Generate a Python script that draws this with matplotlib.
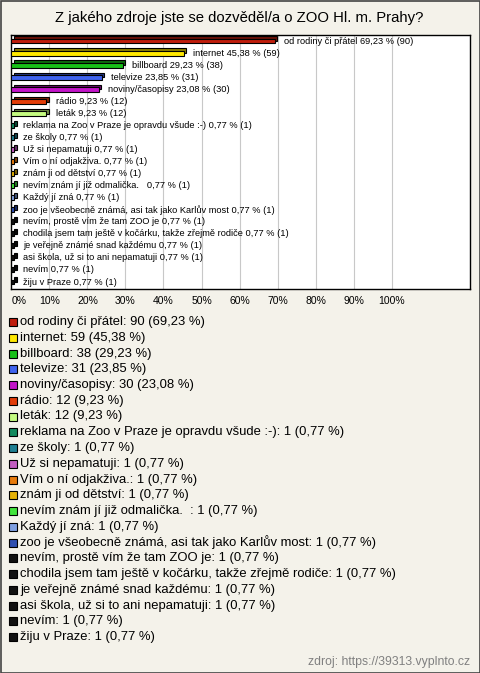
import matplotlib.pyplot as plt
import matplotlib.transforms as mtransforms
from matplotlib.colors import to_rgb
from matplotlib.patches import Rectangle
import numpy as np

plt.rcParams['font.family'] = ['Liberation Sans', 'DejaVu Sans']

title = 'Z jakého zdroje jste se dozvěděl/a o ZOO Hl. m. Prahy?'
answers = [
    'od rodiny či přátel', 'internet', 'billboard', 'televize', 'noviny/časopisy',
    'rádio', 'leták', 'reklama na Zoo v Praze je opravdu všude :-)', 'ze školy',
    'Už si nepamatuji', 'Vím o ní odjakživa.', 'znám ji od dětství',
    'nevím znám jí již odmalička.  ', 'Každý jí zná',
    'zoo je všeobecně známá, asi tak jako Karlův most',
    'nevím, prostě vím že tam ZOO je',
    'chodila jsem tam ještě v kočárku, takže zřejmě rodiče',
    'je veřejně známé snad každému', 'asi škola, už si to ani nepamatuji',
    'nevím', 'žiju v Praze',
]
counts = [90, 59, 38, 31, 30, 12, 12, 1, 1, 1, 1, 1, 1, 1, 1, 1, 1, 1, 1, 1, 1]
percents = [69.23, 45.38, 29.23, 23.85, 23.08, 9.23, 9.23] + [0.77] * 14
colors = ['#c01d0c', '#ffe800', '#18c018', '#3f63ee', '#c214c8', '#e23c08',
          '#c4fb80', '#138a5e', '#1f7f92', '#c25cbf', '#e87b0c', '#e4b004',
          '#42e43c', '#7fa0e2', '#2f4fb0', '#111111', '#111111', '#111111',
          '#111111', '#111111', '#111111']

ticks = list(range(0, 101, 10))
bg = '#f4f2ea'


def pct(v):
    return ('%.2f' % v).replace('.', ',')


fig = plt.figure(figsize=(4.8, 6.73), dpi=100, facecolor=bg)
W, H = 480, 673

fig.text(239 / W, 1 - 18 / H, title, ha='center', va='center', fontsize=10.7)

ax = fig.add_axes([11 / W, 1 - 289 / H, 459 / W, 254 / H])
ax.set_facecolor('white')
n = len(answers)
y = np.arange(n)
ax.set_xlim(-0.1, 120.6)
ax.set_ylim(n - 1 + 0.58, -0.5)

for t in ticks[1:]:
    ax.axvline(t, color='#c8c8c8', lw=0.8, zorder=0)

# 3D look: darker box shifted up-right behind the front face
shift = mtransforms.ScaledTranslation(2.2 / 100, 2.2 / 100, fig.dpi_scale_trans)
dark = [tuple(np.array(to_rgb(c)) * 0.55) for c in colors]
ax.barh(y, percents, height=0.41, color=dark, edgecolor='black', linewidth=0.8,
        transform=ax.transData + shift, zorder=2)
ax.barh(y, percents, height=0.41, color=colors, edgecolor='black', linewidth=0.8,
        zorder=3)

for i in range(n):
    lab = '{0} {1} % ({2})'.format(answers[i], pct(percents[i]), counts[i])
    ax.annotate(lab, (percents[i], y[i]), xytext=(6.5, 0), textcoords='offset points',
                va='center', ha='left', fontsize=6.7, zorder=4)

ax.set_yticks([])
ax.set_xticks(ticks)
ax.set_xticklabels(['%d%%' % t for t in ticks], fontsize=7.5)
ax.get_xticklabels()[0].set_horizontalalignment('left')
ax.tick_params(axis='x', length=0, pad=5)
for s in ax.spines.values():
    s.set_color('black')
    s.set_linewidth(1.0)

# legend below the chart
for i in range(n):
    yc = 1 - (322 + 15.75 * i) / H
    fig.add_artist(Rectangle((9 / W, yc - 4 / H), 8 / W, 8 / H, transform=fig.transFigure,
                             facecolor=colors[i], edgecolor='black', lw=0.8))
    fig.text(20 / W, yc, '{0}: {1} ({2} %)'.format(answers[i], counts[i], pct(percents[i])),
             ha='left', va='center', fontsize=9.4)

fig.text(470 / W, 1 - 662 / H, 'zdroj: https://39313.vyplnto.cz', ha='right',
         va='center', fontsize=8.8, color='#808080')

fig.add_artist(Rectangle((0.5 / W, 0.5 / H), 479 / W, 672 / H, transform=fig.transFigure,
                         facecolor='none', edgecolor='#444444', lw=1.2))

plt.savefig('out.png', dpi=100, facecolor=bg)
plt.close()
